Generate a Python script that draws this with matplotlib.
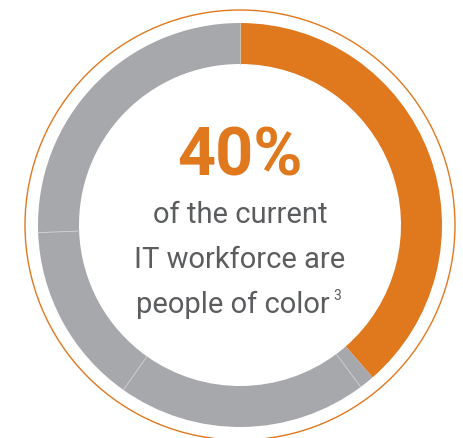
import numpy as np
import matplotlib
matplotlib.use("Agg")
import matplotlib.pyplot as plt
from matplotlib.patches import Circle

# share of the ring, clockwise from 12 o'clock
segment_values = [38.6, 1.2, 20.0, 14.6, 25.6]
segment_colors = ["#E0781E", "#A7A8AB", "#A7A8AB", "#A7A8AB", "#A7A8AB"]

headline = "40%"
caption_lines = ["of the current", "IT workforce are", "people of color"]
footnote = "3"

orange = "#E0781E"
text_gray = "#5B5C5E"

fig = plt.figure(figsize=(4.64, 4.38), dpi=100)
ax = fig.add_axes([0, 0, 1, 1])

cx, cy = 240, 213
r_out, width = 202, 41
wedges, _ = ax.pie(segment_values, colors=segment_colors, startangle=90, counterclock=False,
                   center=(cx, cy), radius=r_out, frame=True,
                   wedgeprops=dict(width=width, linewidth=0))

# faint dividers between the gray pieces
bounds = np.cumsum(segment_values)[1:-1]
for b in np.append(bounds, 100):
    ang = np.deg2rad(90 - b * 3.6)
    ax.plot([cx + (r_out - width) * np.cos(ang), cx + r_out * np.cos(ang)],
            [cy + (r_out - width) * np.sin(ang), cy + r_out * np.sin(ang)],
            color="#CFD0D2", linewidth=0.6)

ax.set_xlim(0, 464)
ax.set_ylim(0, 438)
ax.set_aspect("equal")
ax.axis("off")

ax.add_patch(Circle((cx, cy), 215, fill=False, edgecolor=orange, linewidth=1.0))

ax.text(240, 280, headline, ha="center", va="center", fontsize=48, fontweight="bold",
        color=orange, family="Roboto")
baselines = [215, 170, 125]
for line, yb in zip(caption_lines, baselines):
    xc = 233 if line == caption_lines[-1] else 240
    ax.text(xc, yb, line, ha="center", va="baseline", fontsize=21, color=text_gray,
            family="Roboto")
ax.text(333, 138, footnote, ha="left", va="baseline", fontsize=10, color=text_gray,
        family="Roboto")

fig.savefig("out.png", dpi=100)
